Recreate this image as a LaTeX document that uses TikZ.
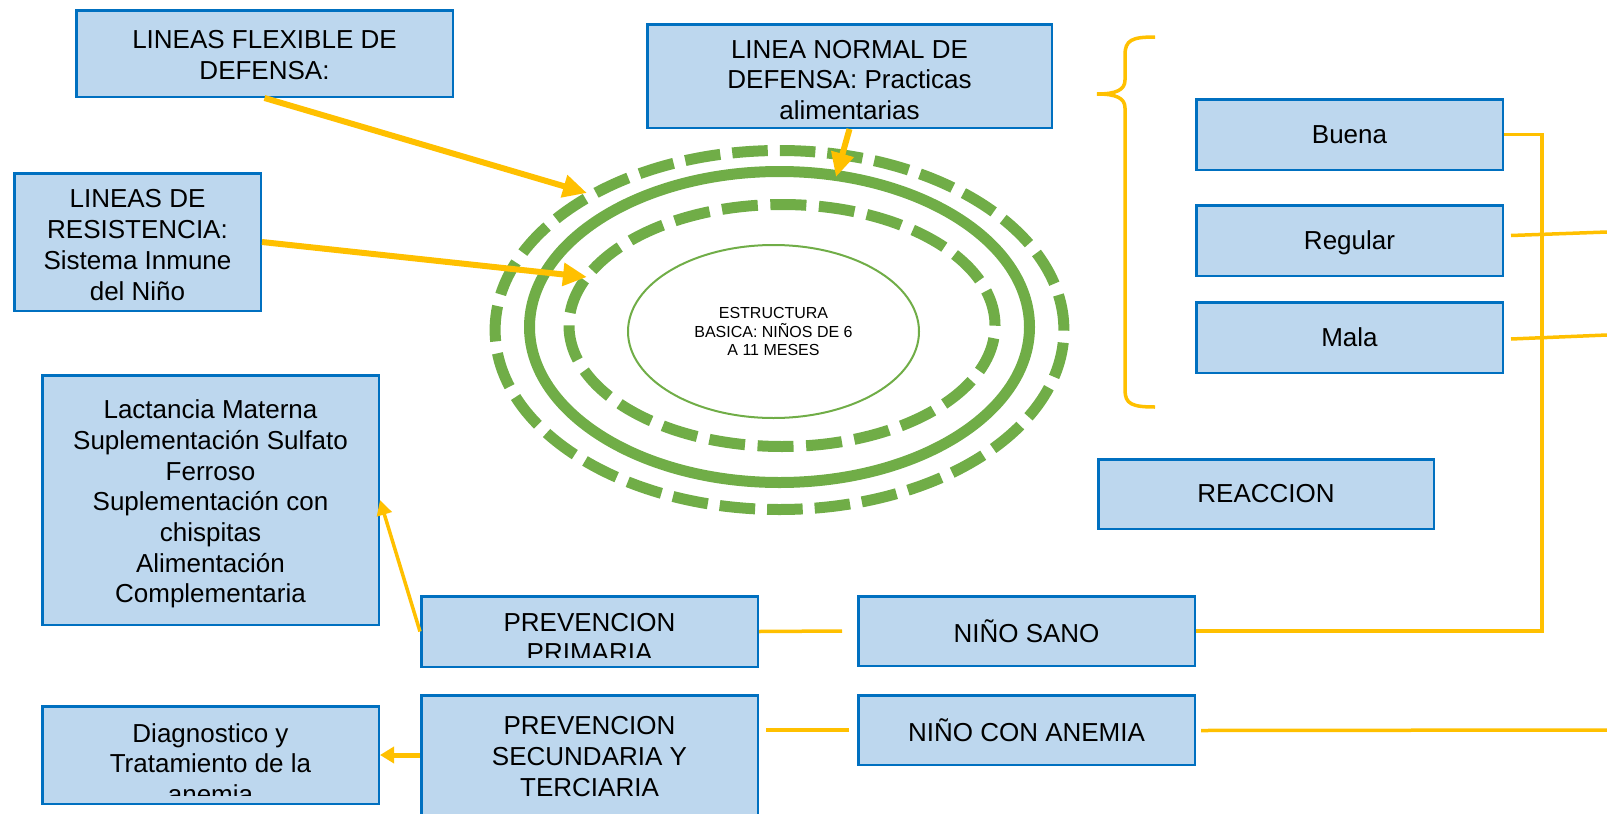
\documentclass[tikz,border=0pt]{standalone}
\usepackage{fontspec}
\setmainfont{Liberation Sans}
\usetikzlibrary{arrows.meta,calc,shapes.geometric}
\definecolor{boxfill}{HTML}{BDD7EE}
\definecolor{boxline}{HTML}{0070C0}
\definecolor{ylw}{HTML}{FFC000}
\definecolor{grn}{HTML}{70AD47}
\begin{document}
\begin{tikzpicture}[x=1pt,y=-1pt,
  box/.style={draw=boxline, fill=boxfill, line width=2.5pt, inner sep=0pt,
    font=\fontsize{26}{30.7}\selectfont, align=center},
  txt/.style={font=\fontsize{26}{30.7}\selectfont, align=center, inner sep=0pt},
  core/.style={ellipse, draw=grn, line width=2pt, inner sep=0pt,
    minimum width=291pt, minimum height=173pt,
    font=\fontsize{16}{18.5}\selectfont, align=center},
  ring/.style={draw=grn, line width=11pt},
  ylink/.style={draw=ylw, line width=3.5pt},
  bigarrow/.style={draw=ylw, line width=6pt, -{Triangle[length=24pt,width=22pt]}},
  thinarrow/.style={draw=ylw, line width=3.5pt, -{Triangle[length=15pt,width=15pt]}},
  medarrow/.style={draw=ylw, line width=5pt, -{Triangle[length=14pt,width=16pt]}}
]
\useasboundingbox (0,0) rectangle (1607,814);
\clip (0,0) rectangle (1607,814);

% rings
\draw[ring, dash pattern=on 35.6pt off 12pt] (779.5,330) ellipse [x radius=284.4pt, y radius=179.5pt];
\draw[ring] (779.5,327) ellipse [x radius=250pt, y radius=155.5pt];
\draw[ring, dash pattern=on 36pt off 12.6pt] (782,325.5) ellipse [x radius=213pt, y radius=121pt];
\node[core] (core) at (773.5,331.5) {ESTRUCTURA\\BASICA: NIÑOS DE 6\\A 11 MESES};

% boxes
\node[box, minimum width=376.5pt, minimum height=86.5pt] (flex) at (264.5,53.5) {};
\node[box, minimum width=404.5pt, minimum height=103.5pt] (norm) at (849.5,76) {};
\node[box, minimum width=246.5pt, minimum height=137.5pt] (res) at (137.5,242) {};
\node[box, minimum width=306.5pt, minimum height=70.5pt] (buena) at (1349.5,134.5) {Buena};
\node[box, minimum width=306.5pt, minimum height=70.5pt, text depth=0pt] (regular) at (1349.5,240.5) {Regular};
\node[box, minimum width=306.5pt, minimum height=70.5pt] (mala) at (1349.5,337.5) {Mala};
\node[box, minimum width=335.5pt, minimum height=69.5pt] (reac) at (1266,494) {REACCION};
\node[box, minimum width=336.5pt, minimum height=249.5pt] (lact) at (210.5,500) {};
\node[box, minimum width=336.5pt, minimum height=70.5pt] (prim) at (589.5,631.5) {};
\node[box, minimum width=336.5pt, minimum height=69.5pt] (sano) at (1026.5,631) {NIÑO SANO};
\node[box, minimum width=336.5pt, minimum height=97.5pt] (diag) at (210.5,755) {};
\node[box, minimum width=336.5pt, minimum height=133.5pt] (sec) at (589.5,762) {};
\node[box, minimum width=336.5pt, minimum height=69.5pt] (anemia) at (1026.5,730) {NIÑO CON ANEMIA};

% box texts
\node[txt] (flextxt) at (264.5,55) {LINEAS FLEXIBLE DE\\DEFENSA:};
\node[txt] (restxt) at (137.5,245) {LINEAS DE\\RESISTENCIA:\\Sistema Inmune\\del Niño};
\node[txt] (lacttxt) at (210.5,504) {Lactancia Materna\\Suplementación Sulfato\\Ferroso\\Suplementación con\\chispitas\\Alimentación\\Complementaria};
\begin{scope}
  \clip (646,23) rectangle (1053,119);
  \node[txt] (normtxt) at (849.5,80) {LINEA NORMAL DE\\DEFENSA: Practicas\\alimentarias};
\end{scope}
\begin{scope}
  \clip (420,595) rectangle (759,657);
  \node[txt] (primtxt) at (589.5,637.5) {PREVENCION\\PRIMARIA};
\end{scope}
\begin{scope}
  \clip (41,705) rectangle (380,795);
  \node[txt] (diagtxt) at (210.5,763.5) {Diagnostico y\\Tratamiento de la\\anemia};
\end{scope}
\node[txt] (sectxt) at (589.5,756.5) {PREVENCION\\SECUNDARIA Y\\TERCIARIA};

% brace
\draw[ylw, line width=3.5pt]
  (1155,37) .. controls (1132,37) and (1125,40) .. (1125,55) -- (1125,80)
  .. controls (1125,90) and (1116,94) .. (1097,94)
  .. controls (1116,94) and (1125,98) .. (1125,108) -- (1125,390)
  .. controls (1125,404) and (1132,407) .. (1155,407);

% arrows
\coordinate (t1) at (587,193);
\coordinate (t2) at (587,277);
\coordinate (t3) at (836,177);
\draw[bigarrow] (flex.south) -- (t1);
\draw[bigarrow] (res.east) -- (t2);
\draw[bigarrow] (norm.south) -- (t3);
\draw[thinarrow] (prim.west) -- (lact.east);
\draw[medarrow] (sec.west |- diag.east) -- (diag.east);

% connectors
\coordinate (r2) at (1607,232);
\coordinate (r3) at (1607,335);
\coordinate (r4) at (1607,730);
\draw[ylink] (buena.east) -- ++(38,0) |- (sano.east);
\draw[ylink] ($(regular.east)+(7,-5)$) -- (r2);
\draw[ylink] ($(mala.east)+(7,1.5)$) -- (r3);
\draw[ylink] ($(anemia.east)+(5,0.5)$) -- (r4);
\draw[ylink] (prim.east) -- ($(sano.west)+(-15,0)$);
\draw[ylink] ($(sec.east |- anemia.west)+(7,0)$) -- ($(anemia.west)+(-8,0)$);
\end{tikzpicture}
\end{document}
